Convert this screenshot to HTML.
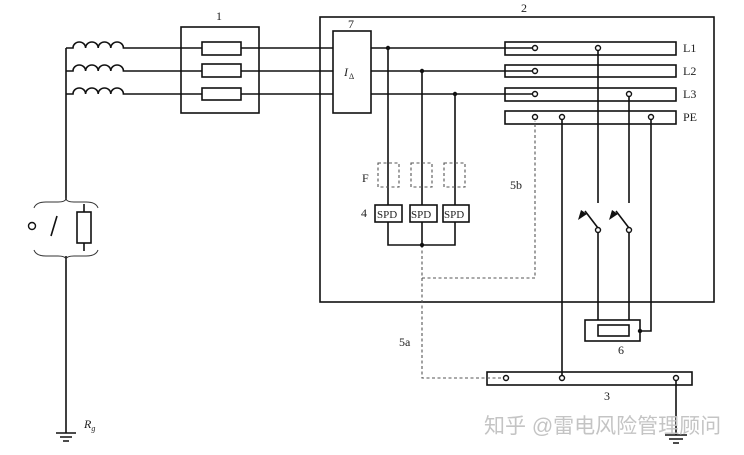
<!DOCTYPE html>
<html><head><style>body{margin:0;background:#fff}svg{display:block}</style></head><body>
<svg width="744" height="455" viewBox="0 0 744 455" xmlns="http://www.w3.org/2000/svg" font-family="Liberation Serif, serif" font-size="12">
<g stroke="#111" stroke-width="1.6" fill="none">
<path d="M66 48V200M66 256V433"/>
<path d="M56 433h20M60 437h12M63 441h6"/>
<path d="M66 48h7 a6.3 6 0 0 1 12.6 0 a6.3 6 0 0 1 12.6 0 a6.3 6 0 0 1 12.6 0 a6.3 6 0 0 1 12.6 0 H333"/>
<path d="M66 71h7 a6.3 6 0 0 1 12.6 0 a6.3 6 0 0 1 12.6 0 a6.3 6 0 0 1 12.6 0 a6.3 6 0 0 1 12.6 0 H333"/>
<path d="M66 94h7 a6.3 6 0 0 1 12.6 0 a6.3 6 0 0 1 12.6 0 a6.3 6 0 0 1 12.6 0 a6.3 6 0 0 1 12.6 0 H333"/>
<rect x="181" y="27" width="78" height="86"/>
<rect x="202" y="42" width="39" height="13" fill="#fff"/>
<rect x="202" y="64" width="39" height="13" fill="#fff"/>
<rect x="202" y="88" width="39" height="12" fill="#fff"/>
<rect x="320" y="17" width="394" height="285"/>
<rect x="333" y="31" width="38" height="82" fill="#fff"/>
<path d="M371 48H532M371 71H532M371 94H532"/>
<path d="M388 48V205M422 71V205M455 94V205"/>
<path d="M388 222V245H455V222M422 222V245"/>
<rect x="375" y="205" width="27" height="17" fill="#fff"/>
<rect x="410" y="205" width="27" height="17" fill="#fff"/>
<rect x="443" y="205" width="26" height="17" fill="#fff"/>
<rect x="505" y="42" width="171" height="13"/>
<rect x="505" y="65" width="171" height="12"/>
<rect x="505" y="88" width="171" height="13"/>
<rect x="505" y="111" width="171" height="13"/>
<path d="M598 51V203M629 97V203M562 120V375M651 120V331H640"/>
<path d="M598 232V320M629 232V320"/>
<path d="M598 228L585 211M629 228L616 211"/>
<rect x="585" y="320" width="55" height="21"/>
<rect x="598" y="325" width="31" height="11"/>
<rect x="487" y="372" width="205" height="13"/>
<path d="M676 381V435M665 435h22M669 439h14M673 443h6"/>
</g>
<g fill="#111"><path d="M587 214l-9 6 3-10z"/><path d="M618 214l-9 6 3-10z"/></g>
<g stroke="#555" stroke-width="1.1" fill="none" stroke-dasharray="3,2.5">
<path d="M422 245V378H503M422 278H535V121"/>
<rect x="378" y="163" width="21" height="24"/>
<rect x="411" y="163" width="21" height="24"/>
<rect x="444" y="163" width="21" height="24"/>
</g>
<g stroke="#111" stroke-width="1.4" fill="#fff">
<circle cx="535" cy="48" r="2.5"/><circle cx="598" cy="48" r="2.5"/>
<circle cx="535" cy="71" r="2.5"/>
<circle cx="535" cy="94" r="2.5"/><circle cx="629" cy="94" r="2.5"/>
<circle cx="535" cy="117" r="2.5"/><circle cx="562" cy="117" r="2.5"/><circle cx="651" cy="117" r="2.5"/>
<circle cx="598" cy="230" r="2.5"/><circle cx="629" cy="230" r="2.5"/>
<circle cx="506" cy="378" r="2.5"/><circle cx="562" cy="378" r="2.5"/><circle cx="676" cy="378" r="2.5"/>
<circle cx="32" cy="226" r="3.5"/>
</g>
<g fill="#111"><circle cx="388" cy="48" r="2.2"/><circle cx="422" cy="71" r="2.2"/><circle cx="455" cy="94" r="2.2"/><circle cx="422" cy="245" r="2.2"/><circle cx="640" cy="331" r="2.2"/></g>
<g stroke="#111" stroke-width="1.6" fill="none">
<path d="M51 236L57 216"/>
<path d="M84 204V251"/>
<rect x="77" y="212" width="14" height="31" fill="#fff"/>
</g>
<g stroke="#333" stroke-width="1" fill="none">
<path d="M34 208q2-6 12-6h12q7 0 8-3q1 3 8 3h12q10 0 12 6"/>
<path d="M34 250q2 6 12 6h12q7 0 8 3q1-3 8-3h12q10 0 12-6"/>
</g>
<g fill="#222">
<text x="216" y="20">1</text><text x="521" y="12">2</text><text x="348" y="28">7</text>
<text x="344" y="76" font-style="italic">I</text><text x="349" y="79" font-size="8">Δ</text>
<text x="683" y="52">L1</text><text x="683" y="75">L2</text><text x="683" y="98">L3</text><text x="683" y="121">PE</text>
<text x="362" y="182">F</text><text x="361" y="217">4</text>
<text x="377" y="218" font-size="11">SPD</text><text x="411" y="218" font-size="11">SPD</text><text x="444" y="218" font-size="11">SPD</text>
<text x="510" y="189">5b</text><text x="399" y="346">5a</text>
<text x="618" y="354">6</text><text x="604" y="400">3</text>
<text x="84" y="428" font-style="italic">R<tspan font-size="8" dy="3">g</tspan></text>
</g>
<text x="484" y="433" font-family="Liberation Sans, Noto Sans CJK SC, sans-serif" font-size="21" fill="#c4c4c4">知乎 @雷电风险管理顾问</text>
</svg>
</body></html>
